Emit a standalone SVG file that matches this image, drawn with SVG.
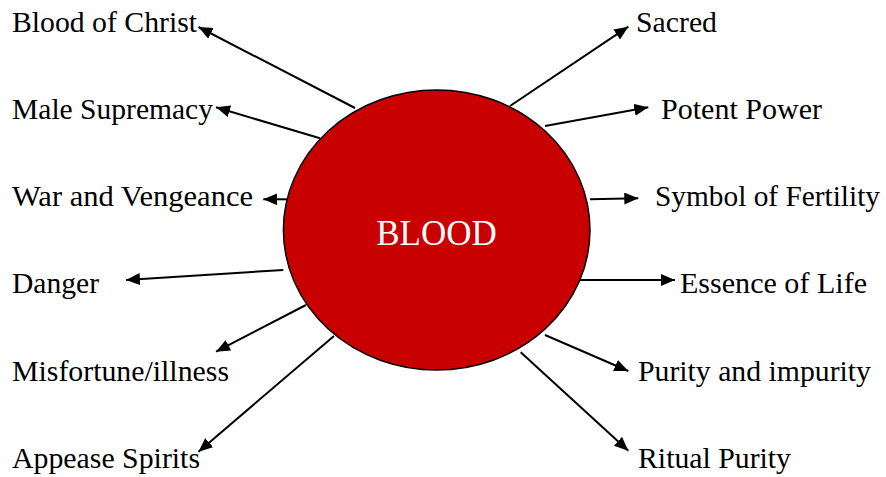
<svg xmlns="http://www.w3.org/2000/svg" width="886" height="477" viewBox="0 0 886 477">
<style>
.lbl{font-family:"Liberation Serif","Times New Roman",serif;font-size:29px;fill:#000}
.title{font-family:"Liberation Serif","Times New Roman",serif;font-size:35px;fill:#fff}
.con{stroke:#000;stroke-width:2;fill:none;marker-end:url(#ah)}
</style>
<defs>
<marker id="ah" markerUnits="userSpaceOnUse" markerWidth="15" markerHeight="13" refX="14" refY="6" orient="auto">
<path d="M0,0 L14,6 L0,12 z" fill="#000"/>
</marker>
</defs>
<rect width="886" height="477" fill="#fff"/>
<g id="connectors">
<line class="con" x1="355" y1="108" x2="198.5" y2="27"/>
<line class="con" x1="320" y1="138.3" x2="216" y2="107.3"/>
<line class="con" x1="293.3" y1="199.3" x2="263.3" y2="199.3"/>
<line class="con" x1="283.3" y1="270" x2="126" y2="280"/>
<line class="con" x1="306" y1="305" x2="216" y2="351.7"/>
<line class="con" x1="334" y1="336" x2="198.5" y2="451.7"/>
<line class="con" x1="510" y1="106" x2="628.3" y2="26.7"/>
<line class="con" x1="545" y1="126" x2="648.3" y2="107.3"/>
<line class="con" x1="590" y1="199.3" x2="638.3" y2="198.3"/>
<line class="con" x1="580" y1="280" x2="675" y2="280"/>
<line class="con" x1="545" y1="335" x2="628.3" y2="371"/>
<line class="con" x1="520.7" y1="352.3" x2="628.3" y2="450.7"/>
</g>
<g id="blood">
<ellipse cx="436.7" cy="230" rx="153.3" ry="140" fill="#C80000" stroke="#000" stroke-width="1.5"/>
<text class="title" x="436.5" y="245" text-anchor="middle">BLOOD</text>
</g>
<g id="blood-of-christ"><text class="lbl" x="12" y="32" textLength="185" lengthAdjust="spacingAndGlyphs">Blood of Christ</text></g>
<g id="male-supremacy"><text class="lbl" x="12" y="119" textLength="201" lengthAdjust="spacingAndGlyphs">Male Supremacy</text></g>
<g id="war-and-vengeance"><text class="lbl" x="12" y="206" textLength="241" lengthAdjust="spacingAndGlyphs">War and Vengeance</text></g>
<g id="danger"><text class="lbl" x="12" y="293" textLength="87" lengthAdjust="spacingAndGlyphs">Danger</text></g>
<g id="misfortune"><text class="lbl" x="12" y="381" textLength="217" lengthAdjust="spacingAndGlyphs">Misfortune/illness</text></g>
<g id="appease-spirits"><text class="lbl" x="12" y="468" textLength="188" lengthAdjust="spacingAndGlyphs">Appease Spirits</text></g>
<g id="sacred"><text class="lbl" x="636" y="32" textLength="81" lengthAdjust="spacingAndGlyphs">Sacred</text></g>
<g id="potent-power"><text class="lbl" x="661" y="119" textLength="161" lengthAdjust="spacingAndGlyphs">Potent Power</text></g>
<g id="symbol-of-fertility"><text class="lbl" x="655" y="206" textLength="225" lengthAdjust="spacingAndGlyphs">Symbol of Fertility</text></g>
<g id="essence-of-life"><text class="lbl" x="680" y="293" textLength="187" lengthAdjust="spacingAndGlyphs">Essence of Life</text></g>
<g id="purity-and-impurity"><text class="lbl" x="638" y="381" textLength="233" lengthAdjust="spacingAndGlyphs">Purity and impurity</text></g>
<g id="ritual-purity"><text class="lbl" x="638" y="468" textLength="153" lengthAdjust="spacingAndGlyphs">Ritual Purity</text></g>
</svg>
